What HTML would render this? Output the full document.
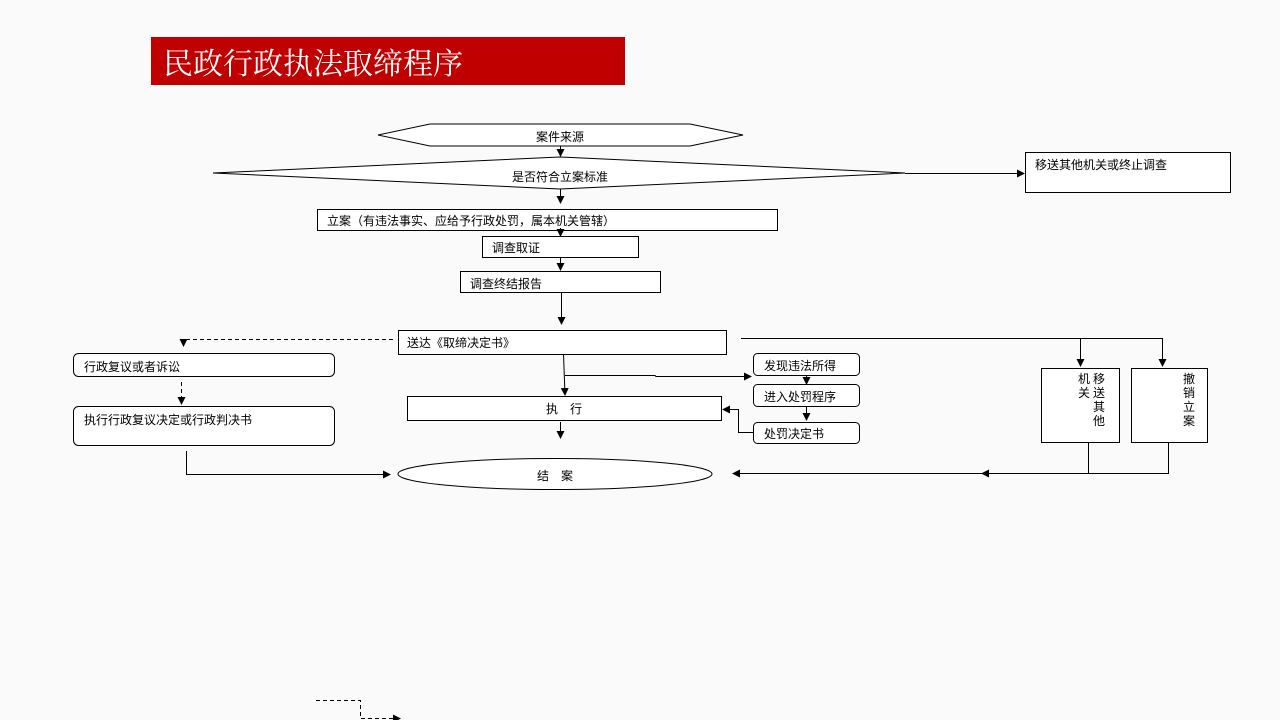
<!DOCTYPE html>
<html><head><meta charset="utf-8"><style>
html,body{margin:0;padding:0;background:#fafafa;}
svg{display:block;}
text{font-family:"Liberation Sans","Noto Sans CJK SC",sans-serif;font-size:12px;fill:#000;}
</style></head><body>
<svg width="1280" height="720" viewBox="0 0 1280 720" xmlns="http://www.w3.org/2000/svg">
<defs>
<marker id="a" markerWidth="8" markerHeight="8" refX="7" refY="4" orient="auto" markerUnits="userSpaceOnUse">
<path d="M0,0 L8,4 L0,8 Z" fill="#000"/></marker>
</defs>
<rect x="0" y="0" width="1280" height="720" fill="#fafafa"/>
<rect x="151" y="37" width="474" height="48" fill="#c00000"/>
<text x="163" y="74" style="font-size:30px;fill:#fff;font-family:'Liberation Serif','Noto Serif CJK SC',serif">民政行政执法取缔程序</text>

<g fill="#fff" stroke="#000" stroke-width="1">
<polygon points="378,135 430,124 690,124 743,135 690,146 430,146"/>
<polygon points="213,173 560,157 905,173 560,189"/>
<rect x="1025.5" y="152.5" width="205" height="40"/>
<rect x="317.5" y="209.5" width="460" height="21"/>
<rect x="482.5" y="236.5" width="156" height="21"/>
<rect x="460.5" y="271.5" width="200" height="21"/>
<rect x="398.5" y="330.5" width="328" height="24"/>
<rect x="73.5" y="353.5" width="261" height="23" rx="5"/>
<rect x="73.5" y="406.5" width="261" height="39" rx="5"/>
<rect x="407.5" y="396.5" width="314" height="24"/>
<ellipse cx="555" cy="474" rx="157" ry="15.5"/>
<rect x="753.5" y="353.5" width="106" height="22" rx="4"/>
<rect x="753.5" y="384.5" width="106" height="22" rx="4"/>
<rect x="753.5" y="422.5" width="106" height="21" rx="4"/>
<rect x="1041.5" y="368.5" width="78" height="74"/>
<rect x="1131.5" y="368.5" width="76" height="74"/>
</g>

<g stroke="#000" stroke-width="1" fill="none">
<line x1="560.5" y1="146" x2="560.5" y2="156" marker-end="url(#a)"/>
<line x1="905" y1="173.5" x2="1024" y2="173.5" marker-end="url(#a)"/>
<line x1="560.5" y1="189" x2="560.5" y2="203" marker-end="url(#a)"/>
<line x1="560.5" y1="228" x2="560.5" y2="236" marker-end="url(#a)"/>
<line x1="560.5" y1="257" x2="560.5" y2="270" marker-end="url(#a)"/>
<line x1="561.5" y1="292" x2="561.5" y2="324" marker-end="url(#a)"/>
<polyline points="393,339.5 183,339.5" stroke-dasharray="4,3"/>
<line x1="183.5" y1="339" x2="183.5" y2="346" marker-end="url(#a)"/>
<line x1="181.5" y1="382" x2="181.5" y2="404" stroke-dasharray="4,3" marker-end="url(#a)"/>
<polyline points="186.5,451 186.5,474.5 390,474.5" marker-end="url(#a)"/>
<line x1="563.5" y1="354" x2="565" y2="395" marker-end="url(#a)"/>
<polyline points="565,375.5 655,375.5 656,376.5 751,376.5" marker-end="url(#a)"/>
<line x1="560.5" y1="422" x2="560.5" y2="438" marker-end="url(#a)"/>
<line x1="806.5" y1="375" x2="806.5" y2="384" marker-end="url(#a)"/>
<line x1="806.5" y1="406" x2="806.5" y2="420" marker-end="url(#a)"/>
<polyline points="753,432.5 738.5,432.5 738.5,409.5 723,409.5" marker-end="url(#a)"/>
<polyline points="741,338.5 1162.5,338.5 1162.5,366" marker-end="url(#a)"/>
<line x1="1080.5" y1="338" x2="1080.5" y2="366" marker-end="url(#a)"/>
<polyline points="1088.5,442 1088.5,473.5 982,473.5" marker-end="url(#a)"/>
<polyline points="1168.5,442 1168.5,473.5 733,473.5" marker-end="url(#a)"/>
<polyline points="316,700.5 360.5,700.5 360.5,718.5 400,718.5" stroke-dasharray="4,3" marker-end="url(#a)"/>
</g>

<text x="560" y="141" text-anchor="middle">案件来源</text>
<text x="560" y="181" text-anchor="middle">是否符合立案标准</text>
<text x="1035" y="169">移送其他机关或终止调查</text>
<text x="327" y="225">立案（有违法事实、应给予行政处罚，属本机关管辖）</text>
<text x="492" y="252">调查取证</text>
<text x="470" y="288">调查终结报告</text>
<text x="407" y="347">送达《取缔决定书》</text>
<text x="84" y="371">行政复议或者诉讼</text>
<text x="84" y="424">执行行政复议决定或行政判决书</text>
<text x="564" y="413" text-anchor="middle">执　行</text>
<text x="555" y="480" text-anchor="middle">结　案</text>
<text x="764" y="370">发现违法所得</text>
<text x="764" y="401">进入处罚程序</text>
<text x="764" y="438">处罚决定书</text>
<g>
<text x="1093" y="383">移</text><text x="1093" y="397">送</text><text x="1093" y="411">其</text><text x="1093" y="425">他</text>
<text x="1078" y="383">机</text><text x="1078" y="397">关</text>
<text x="1183" y="383">撤</text><text x="1183" y="397">销</text><text x="1183" y="411">立</text><text x="1183" y="425">案</text>
</g>
</svg>
</body></html>
